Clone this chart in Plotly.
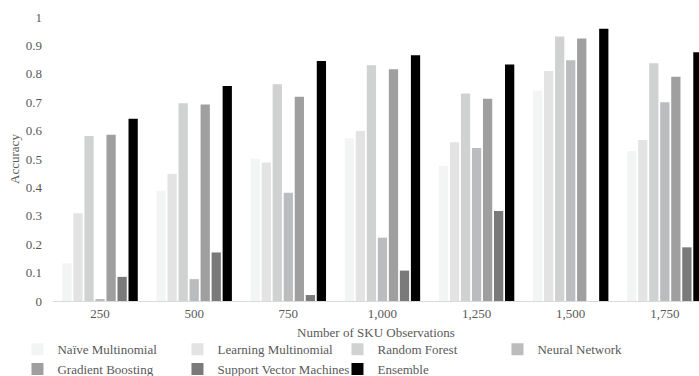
import plotly.graph_objects as go

categories = ["250", "500", "750", "1,000", "1,250", "1,500", "1,750"]
series_names = ["Naïve Multinomial", "Learning Multinomial", "Random Forest",
                "Neural Network", "Gradient Boosting", "Support Vector Machines", "Ensemble"]

naive_multinomial = [0.133, 0.388, 0.501, 0.573, 0.475, 0.741, 0.528]
learning_multinomial = [0.309, 0.448, 0.488, 0.599, 0.559, 0.810, 0.567]
random_forest = [0.581, 0.696, 0.763, 0.830, 0.731, 0.931, 0.837]
neural_network = [0.004, 0.077, 0.381, 0.223, 0.539, 0.848, 0.700]
gradient_boosting = [0.585, 0.692, 0.719, 0.816, 0.712, 0.924, 0.790]
support_vector_machines = [0.085, 0.171, 0.021, 0.107, 0.317, None, 0.189]
ensemble = [0.642, 0.757, 0.845, 0.865, 0.833, 0.959, 0.876]

series_values = [naive_multinomial, learning_multinomial, random_forest, neural_network,
                 gradient_boosting, support_vector_machines, ensemble]
colors = ["#f3f4f4", "#e3e3e3", "#d0d1d1", "#bbbcbd", "#9f9f9f", "#7a7a7a", "#000000"]

y_ticks = [0, 0.1, 0.2, 0.3, 0.4, 0.5, 0.6, 0.7, 0.8, 0.9, 1]
y_tick_labels = ["0", "0.1", "0.2", "0.3", "0.4", "0.5", "0.6", "0.7", "0.8", "0.9", "1"]

FONT = "Liberation Serif"
GRAY = "#595959"

fig = go.Figure()
for name, vals, col in zip(series_names, series_values, colors):
    fig.add_trace(go.Bar(x=categories, y=vals, name=name, marker_color=col,
                         marker_line_width=0))

fig.update_layout(
    width=699, height=376,
    margin=dict(l=53, r=0, t=17, b=75, autoexpand=False),
    paper_bgcolor="white", plot_bgcolor="white",
    barmode="group", bargap=0.18, bargroupgap=0.16,
    font=dict(family=FONT, size=13, color=GRAY),
    showlegend=True,
    legend=dict(orientation="h", x=-0.055, xanchor="left", y=-0.117, yanchor="top",
                entrywidth=115, itemwidth=30, tracegroupgap=0,
                font=dict(family=FONT, size=13, color=GRAY),
                traceorder="normal"),
    xaxis=dict(type="category", range=[-0.5, 6.363], showgrid=False,
               showline=True, linecolor="#d9d9d9", linewidth=1, ticks="",
               title=dict(text="Number of SKU Observations", standoff=8,
                          font=dict(family=FONT, size=13, color=GRAY))),
    yaxis=dict(range=[0, 1], tickvals=y_ticks, ticktext=y_tick_labels,
               showgrid=False, zeroline=False, showline=False, ticks="",
               ticklabelstandoff=10,
               title=dict(text="Accuracy", standoff=3,
                          font=dict(family=FONT, size=13, color=GRAY))),
)

# remove the browser's default 8px body margin so the figure fills the window exactly
fig.write_html("out.html",
               config={"displayModeBar": False},
               post_script="document.body.style.margin='0';document.body.style.overflow='hidden';")
